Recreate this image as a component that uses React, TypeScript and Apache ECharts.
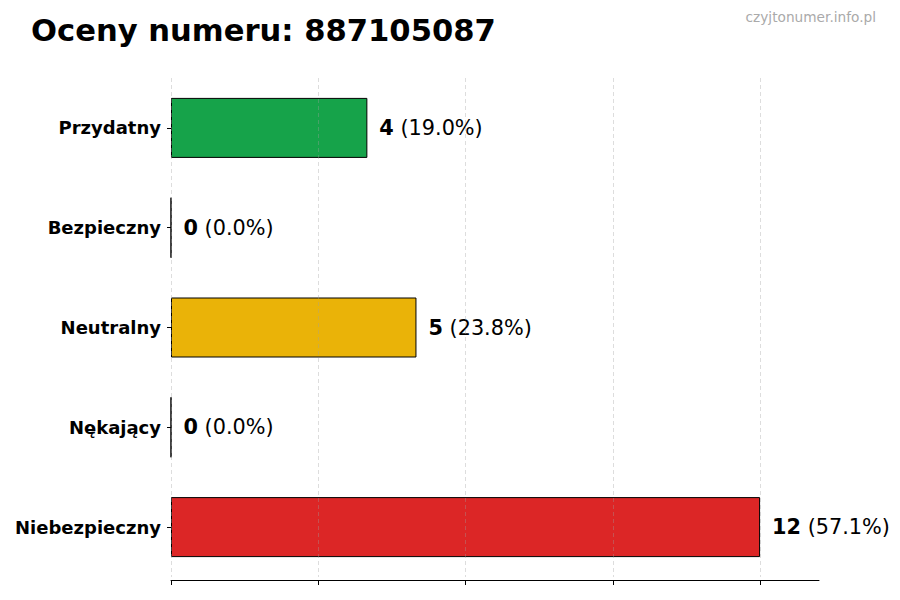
import React, { useEffect, useRef } from "react";
import * as echarts from "echarts";

const categories = ["Przydatny", "Bezpieczny", "Neutralny", "Nękający", "Niebezpieczny"];
const values = [4, 0, 5, 0, 12];
const colors = ["#16a34a", "#16a34a", "#eab308", "#dc2626", "#dc2626"];
const gridTicks = [0, 3, 6, 9, 12];
const titleText = "Oceny numeru: 887105087";
const watermark = "czyjtonumer.info.pl";

const FONT = "DejaVu Sans";

export default function App() {
  const ref = useRef<HTMLDivElement>(null);
  useEffect(() => {
    if (!ref.current) return;
    const chart = echarts.init(ref.current, null, { renderer: "svg" });
    const total = values.reduce((a, b) => a + b, 0);
    chart.setOption({
      animation: false,
      backgroundColor: "#ffffff",
      title: {
        text: titleText,
        left: 26,
        top: 10,
        textStyle: { fontFamily: FONT, fontSize: 30.6, fontWeight: "bold", color: "#000" },
      },
      graphic: [
        {
          type: "text",
          right: 24,
          top: 10,
          style: { text: watermark, fontFamily: FONT, fontSize: 13.7, fill: "#aaaaaa" },
        },
      ],
      grid: { left: 171, right: 81, top: 78, bottom: 23, containLabel: false },
      xAxis: {
        type: "value",
        min: 0,
        max: 13.2,
        interval: 3,
        offset: 3,
        axisLine: { show: true, lineStyle: { color: "#000", width: 1 } },
        axisTick: { show: true, length: 5, customValues: gridTicks, lineStyle: { color: "#000" } },
        axisLabel: { show: false },
        splitLine: { show: false },
      },
      yAxis: {
        type: "category",
        inverse: true,
        data: categories,
        axisLine: { show: false },
        axisTick: { show: true, length: 4, alignWithLabel: true, lineStyle: { color: "#000" } },
        axisLabel: {
          margin: 10,
          fontFamily: FONT,
          fontSize: 18,
          fontWeight: "bold",
          color: "#000",
        },
      },
      series: [
        {
          type: "bar",
          data: values.map((v, i) => ({ value: v, itemStyle: { color: colors[i] } })),
          barWidth: 60,
          itemStyle: { borderColor: "#000", borderWidth: 1 },
          label: {
            show: true,
            position: "right",
            distance: 12,
            formatter: (p: any) =>
              `{b|${p.value}}{n|\u00a0(${((p.value / total) * 100).toFixed(1)}%)}`,
            rich: {
              b: { fontFamily: FONT, fontSize: 20.8, fontWeight: "bold", color: "#000" },
              n: { fontFamily: FONT, fontSize: 20.8, color: "#000" },
            },
          },
          markLine: {
            silent: true,
            symbol: "none",
            label: { show: false },
            lineStyle: { color: "rgba(160,160,160,0.45)", type: [4, 3], width: 0.8 },
            data: gridTicks.map((v) => ({ xAxis: v })),
          },
        },
      ],
    });
    return () => chart.dispose();
  }, []);
  return (
    <div
      ref={ref}
      style={{ width: 900, height: 600, position: "absolute", left: 0, top: 0 }}
    />
  );
}
